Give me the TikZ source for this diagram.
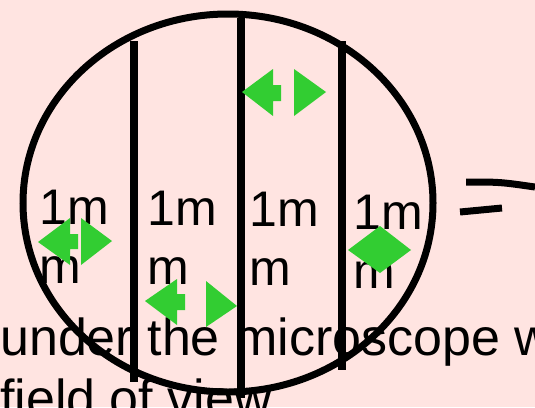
\documentclass[tikz,border=0pt]{standalone}
\usepackage{fontspec}
\setmainfont{Liberation Sans}
\usepackage{xcolor}
\definecolor{bgpink}{RGB}{255,228,225}
\definecolor{headgreen}{RGB}{50,205,50}

\begin{document}
\begin{tikzpicture}[x=1pt,y=-1pt,
    rim/.style={line width=7pt},
    divider/.style={line width=7.5pt},
    head/.style={fill=headgreen},
    lbl/.style={inner sep=0pt,anchor=base west,align=left,
      font=\fontsize{50}{59}\selectfont}]
        \def\w{535}
        \def\h{407}

        %------------------
        % 背景
        %------------------
        \fill[bgpink] (0,0) rectangle (\w,\h);
        \useasboundingbox (0,0) rectangle (\w,\h);
        \clip (0,0) rectangle (\w,\h);

        %------------------
        % 視野（円）と仕切り
        %------------------
        \draw[rim] (228,203) ellipse [x radius=205, y radius=189];

        \draw[divider] (134,41)--(134,382);
        \draw[divider] (241,18)--(241,398);
        \draw[divider] (342,41)--(342,370);

        %------------------
        % ラベル（最終行のベースライン）
        %------------------
        \node[lbl] (colA) at (39,283) {1m\\m};
        \node[lbl] (colB) at (147,284) {1m\\m};
        \node[lbl] (colC) at (249,285) {1m\\m};
        \node[lbl] (colD) at (353,288) {1m\\m};
        \node[lbl,font=\fontsize{52}{61}\selectfont] (caption) at (0,416)
          {under the microscope w\\field of view};

        % 等号
        \draw[line width=7pt] (466,182) .. controls (500,182) .. (535,187);
        \draw[line width=7pt] (460,212)--(502,208);

        %------------------
        % 矢印（緑）
        %------------------
        \fill[head] (38,242)--(70,218)--(70,234)--(78,234)--(78,249)--(70,249)--(70,265)--cycle;
        \fill[head] (81,218)--(112,241)--(81,265)--cycle;

        \fill[head] (242,92)--(273,69)--(273,85)--(281,85)--(281,101)--(273,101)--(273,116)--cycle;
        \fill[head] (294,69)--(326,92)--(294,116)--cycle;

        \fill[head] (145,301)--(177,279)--(177,294)--(185,294)--(185,310)--(177,310)--(177,325)--cycle;
        \fill[head] (206,281)--(237,306)--(206,327)--cycle;

        \fill[head] (348,250)--(380,226)--(411,250)--(380,273)--cycle;
      \end{tikzpicture}
\end{document}
